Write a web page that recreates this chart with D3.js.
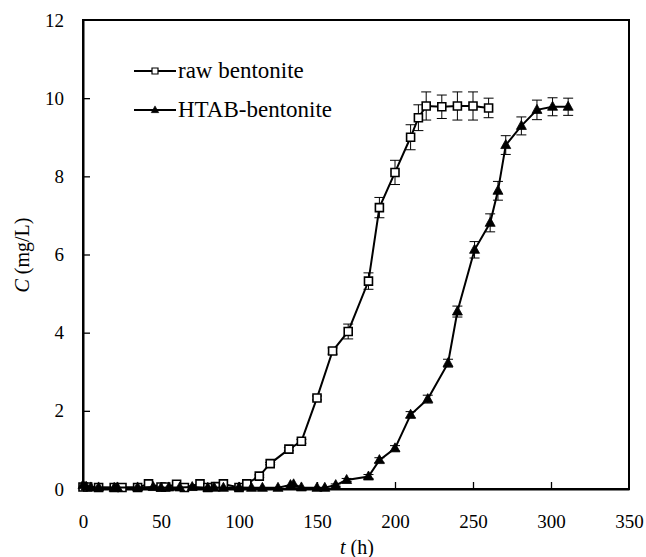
<!DOCTYPE html>
<html><head><meta charset="utf-8">
<script src="https://cdn.jsdelivr.net/npm/d3@7"></script>
<style>body{margin:0;background:#fff}svg{display:block}</style>
</head><body>
<svg id="c" width="646" height="557"></svg>
<script>
const rawT = [0, 3, 10, 20, 25, 35, 42, 50, 53, 60, 65, 75, 80, 85, 90, 100, 105, 113, 120, 132, 140, 150, 160, 170, 183, 190, 200, 210, 215, 220, 230, 240, 250, 260];
const rawC = [0.05, 0.05, 0.04, 0.04, 0.04, 0.04, 0.13, 0.05, 0.05, 0.12, 0.04, 0.13, 0.04, 0.06, 0.13, 0.04, 0.13, 0.33, 0.65, 1.02, 1.22, 2.33, 3.53, 4.03, 5.32, 7.2, 8.1, 9.0, 9.5, 9.8, 9.78, 9.8, 9.8, 9.75];
const rawErr = [0,0,0,0,0,0,0,0,0,0,0,0,0,0,0,0,0,0.03,0.03,0.04,0.05,0.05,0.08,0.19,0.21,0.26,0.31,0.32,0.33,0.36,0.3,0.36,0.36,0.25];
const htabT = [0, 2, 5, 10, 20, 22, 35, 45, 50, 55, 62, 70, 80, 84, 90, 100, 108, 115, 125, 133, 135, 140, 150, 155, 162, 169, 183, 190, 200, 210, 221, 234, 240, 251, 261, 266, 271, 281, 291, 301, 311];
const htabC = [0.1, 0.06, 0.04, 0.04, 0.03, 0.04, 0.04, 0.05, 0.03, 0.04, 0.04, 0.05, 0.03, 0.04, 0.03, 0.04, 0.03, 0.03, 0.03, 0.1, 0.12, 0.04, 0.03, 0.03, 0.1, 0.23, 0.32, 0.74, 1.04, 1.9, 2.3, 3.22, 4.54, 6.12, 6.81, 7.63, 8.8, 9.29, 9.7, 9.78, 9.78];
const htabErr = [0,0,0,0,0,0,0,0,0,0,0,0,0,0,0,0,0,0,0,0,0,0,0,0,0.03,0.04,0.05,0.06,0.07,0.08,0.1,0.1,0.14,0.21,0.23,0.24,0.24,0.23,0.25,0.23,0.22];
const xTicks = [0, 50, 100, 150, 200, 250, 300, 350];
const yTicks = [0, 2, 4, 6, 8, 10, 12];
const seriesNames = ["raw bentonite", "HTAB-bentonite"];

const svg = d3.select("#c");
const m = {l: 83, r: 629, t: 20, b: 489};
const x = d3.scaleLinear().domain([0, 350]).range([m.l, m.r]);
const y = d3.scaleLinear().domain([0, 12]).range([m.b, m.t]);
const font = "'Liberation Serif','Times New Roman',serif";

// frame
svg.append("rect").attr("x", m.l).attr("y", m.t).attr("width", m.r - m.l).attr("height", m.b - m.t)
  .attr("fill", "none").attr("stroke", "#000").attr("stroke-width", 2);

// axes with inward ticks
const xa = svg.append("g").attr("transform", `translate(0,${m.b})`)
  .call(d3.axisBottom(x).tickValues(xTicks).tickSizeInner(-7).tickSizeOuter(0).tickPadding(26));
const ya = svg.append("g").attr("transform", `translate(${m.l},0)`)
  .call(d3.axisLeft(y).tickValues(yTicks).tickSizeInner(-7).tickSizeOuter(0).tickPadding(19));
[xa, ya].forEach(a => {
  a.select(".domain").attr("stroke-width", 2);
  a.selectAll(".tick line").attr("stroke-width", 1.3);
  a.selectAll(".tick text").attr("font-family", font).attr("font-size", 19).attr("fill", "#000");
});
xa.selectAll(".tick line").filter(d => d === 0 || d === 350).remove();
ya.selectAll(".tick line").filter(d => d === 0 || d === 12).remove();

// axis titles
const xt = svg.append("text").attr("x", 357).attr("y", 554).attr("text-anchor", "middle")
  .attr("font-family", font).attr("font-size", 20);
xt.append("tspan").attr("font-style", "italic").text("t");
xt.append("tspan").text(" (h)");
const yt = svg.append("text").attr("transform", "translate(29,255) rotate(-90)").attr("text-anchor", "middle")
  .attr("font-family", font).attr("font-size", 20);
yt.append("tspan").attr("font-style", "italic").text("C");
yt.append("tspan").text(" (mg/L)");

function drawSeries(T, C, E, marker) {
  const g = svg.append("g");
  const pts = T.map((t, i) => ({t, c: C[i], e: E[i]}));
  g.append("path").datum(pts)
    .attr("d", d3.line().x(d => x(d.t)).y(d => y(d.c)))
    .attr("fill", "none").attr("stroke", "#000").attr("stroke-width", 2);
  const eb = g.selectAll(".eb").data(pts.filter(d => d.e > 0)).enter().append("g");
  eb.append("line").attr("x1", d => x(d.t)).attr("x2", d => x(d.t))
    .attr("y1", d => y(d.c + d.e)).attr("y2", d => y(d.c - d.e)).attr("stroke", "#000").attr("stroke-width", 1);
  [1, -1].forEach(s => eb.append("line").attr("x1", d => x(d.t) - 5).attr("x2", d => x(d.t) + 5)
    .attr("y1", d => y(d.c + s * d.e)).attr("y2", d => y(d.c + s * d.e)).attr("stroke", "#000").attr("stroke-width", 1));
  g.selectAll(".mk").data(pts).enter().append("path")
    .attr("transform", d => `translate(${x(d.t)},${y(d.c)})`)
    .attr("d", marker.d).attr("fill", marker.fill).attr("stroke", "#000").attr("stroke-width", marker.sw);
}
const sq = {d: "M-4,-4H4V4H-4Z", fill: "#fff", sw: 1.6};
const tri = {d: "M0,-5.5L5,3.5H-5Z", fill: "#000", sw: 0.8};
drawSeries(rawT, rawC, rawErr, sq);
drawSeries(htabT, htabC, htabErr, tri);

// legend
const lg = svg.append("g");
[[sq, 71], [tri, 110]].forEach(([mk, ly], i) => {
  lg.append("line").attr("x1", 134).attr("x2", 176).attr("y1", ly).attr("y2", ly).attr("stroke", "#000").attr("stroke-width", 2);
  lg.append("path").attr("transform", `translate(155,${ly}) scale(0.75)`).attr("d", mk.d).attr("fill", mk.fill).attr("stroke", "#000").attr("stroke-width", mk.sw);
  lg.append("text").attr("x", 178).attr("y", ly + 7).attr("font-family", font).attr("font-size", 23).text(seriesNames[i]);
});
</script>
</body></html>
